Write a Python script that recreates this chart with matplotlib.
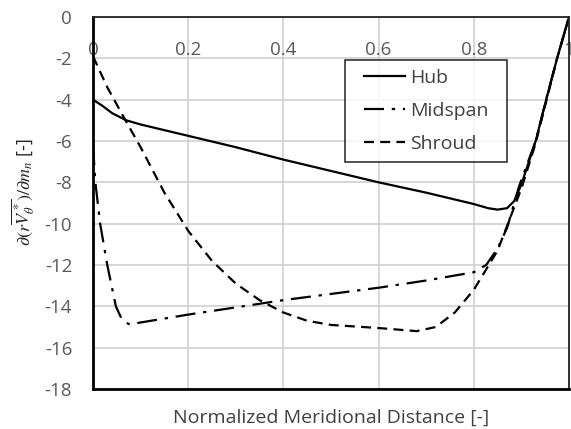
import matplotlib
matplotlib.use("Agg")
import matplotlib.pyplot as plt
from matplotlib.path import Path

plt.rcParams['font.family'] = ['Open Sans', 'DejaVu Sans']
plt.rcParams['mathtext.fontset'] = 'stix'
plt.rcParams['axes.unicode_minus'] = False

hub_x = [0.0, 0.02, 0.04, 0.07, 0.1, 0.2, 0.3, 0.4, 0.5, 0.6, 0.7, 0.8, 0.83, 0.85, 0.87, 0.885, 0.9, 0.93, 0.952, 0.975, 1.0]
hub_y = [-4.0, -4.3, -4.65, -5.0, -5.2, -5.75, -6.3, -6.9, -7.45, -8.0, -8.5, -9.05, -9.25, -9.32, -9.25, -8.9, -8.1, -6.0, -4.0, -2.0, 0.0]

mid_x = [0.0, 0.005, 0.015, 0.03, 0.048, 0.06, 0.07, 0.078, 0.09, 0.2, 0.3, 0.4, 0.5, 0.6, 0.7, 0.8, 0.826, 0.85, 0.87, 0.895, 0.93, 0.952, 0.975, 1.0]
mid_y = [-6.2, -8.0, -10.0, -12.0, -14.0, -14.6, -14.8, -14.88, -14.82, -14.4, -14.05, -13.7, -13.4, -13.1, -12.75, -12.35, -12.0, -11.2, -10.2, -8.2, -6.0, -4.0, -2.0, 0.0]

shr_x = [0.0, 0.03, 0.067, 0.1, 0.15, 0.2, 0.25, 0.3, 0.35, 0.4, 0.45, 0.5, 0.6, 0.68, 0.72, 0.76, 0.8, 0.85, 0.9, 0.93, 0.952, 0.975, 1.0]
shr_y = [-1.9, -3.4, -4.95, -6.3, -8.5, -10.35, -11.8, -12.9, -13.7, -14.3, -14.7, -14.9, -15.05, -15.2, -15.0, -14.3, -13.2, -11.3, -8.3, -6.1, -4.1, -2.0, 0.0]

x_ticks = [0, 0.2, 0.4, 0.6, 0.8, 1.0]
x_ticklabels = ['0', '0.2', '0.4', '0.6', '0.8', '1']
y_ticks = [0, -2, -4, -6, -8, -10, -12, -14, -16, -18]

fig = plt.figure(figsize=(5.71, 4.29), dpi=100)
ax = fig.add_axes([93/571, 1-389/429, 476/571, 372/429])

ax.plot(hub_x, hub_y, color='black', lw=1.6, label='Hub')
ax.plot(mid_x, mid_y, color='black', lw=1.6, dashes=(9, 3.5, 1.5, 3.5), label='Midspan')
ax.plot(shr_x, shr_y, color='black', lw=1.6, dashes=(4.5, 2.8), label='Shroud')

ax.set_xlim(0, 1)
ax.set_ylim(-18, 0)
ax.set_xticks(x_ticks)
ax.set_xticklabels(x_ticklabels)
ax.set_yticks(y_ticks)
ax.grid(True, color='#d0d0d0', lw=1.2)
ax.set_axisbelow(True)

ax.xaxis.set_ticks_position('top')
ax.tick_params(axis='x', which='both', length=0, pad=-30.5, labelsize=13.5, labelcolor='#595959')
ax.tick_params(axis='y', which='both', length=0, pad=15, labelsize=13.5, labelcolor='#595959')
for lab in ax.get_xticklabels():
    lab.set_verticalalignment('bottom')

for s in ['left', 'bottom']:
    ax.spines[s].set_linewidth(2.0)
    ax.spines[s].set_color('black')
for s in ['top', 'right']:
    ax.spines[s].set_linewidth(1.3)
    ax.spines[s].set_color('#222222')

ax.set_xlabel('Normalized Meridional Distance [-]', fontsize=14, color='#404040', labelpad=14)
ax.set_ylabel(r'$\partial(r\overline{V_\theta^*})/\partial m_n$ [-]', fontsize=13, color='#222222')
ax.yaxis.set_label_coords(-0.118, 0.53)


def wide_box(x0, y0, width, height, mutation_size, padx=10):
    xa, xb = x0 - padx, x0 + width + padx
    ya, yb = y0, y0 + height
    return Path([(xa, ya), (xb, ya), (xb, yb), (xa, yb), (xa, ya)],
                [Path.MOVETO, Path.LINETO, Path.LINETO, Path.LINETO, Path.CLOSEPOLY])


leg = ax.legend(loc='upper right', bbox_to_anchor=(0.849, 0.884), fontsize=14, frameon=True,
                fancybox=False, edgecolor='black', handlelength=2.1, handletextpad=0.26,
                borderpad=0.46, labelspacing=0.77, borderaxespad=0)
leg.get_frame().set_boxstyle(wide_box)
leg.get_frame().set_linewidth(1.2)
for t in leg.get_texts():
    t.set_color('#404040')

fig.savefig('out.png', dpi=100)
